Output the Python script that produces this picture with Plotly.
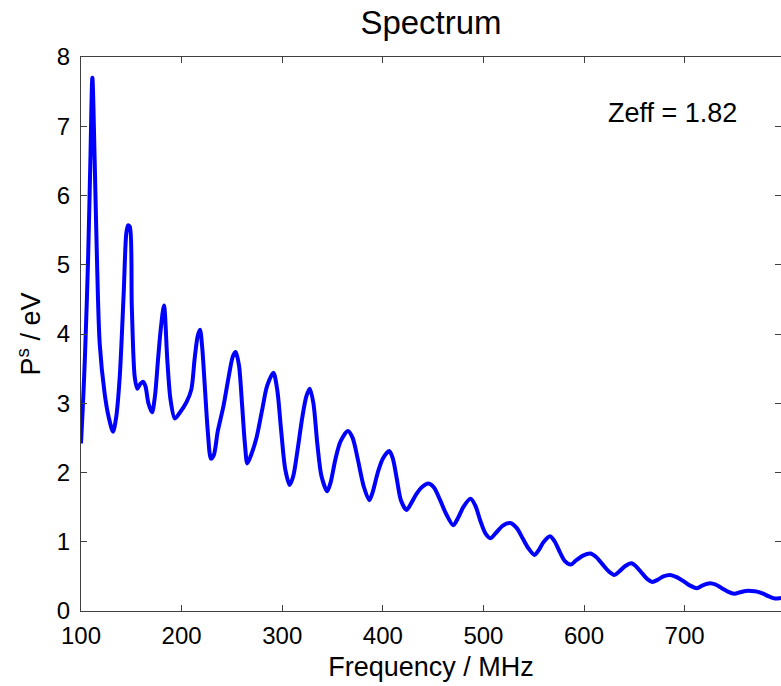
import plotly.graph_objects as go

# Frequency (MHz) and spectral power (eV)
freq = [100, 102, 104, 107, 109.3, 111.3, 113.6, 115.9, 118.6, 123.5, 127.5, 131.8,
        135, 138.5, 142.4, 145, 146.7, 148.5, 150.5, 153.4, 156, 159, 161.6, 164,
        167, 170.6, 173.5, 176.5, 179.5, 182.5, 185.8, 189, 193.3, 198, 205, 209.7,
        213, 216, 218.3, 220.5, 223.3, 226, 229.2, 232, 236, 241.5, 247, 251,
        253.8, 257, 260, 263, 265.3, 269, 274.6, 280, 285, 291.2, 295, 299,
        303, 307.4, 311, 315, 320, 324, 327.4, 331, 335, 339, 344.7, 348,
        353, 358, 365.3, 370, 375, 381, 386.5, 390, 395, 400, 406.4, 410,
        414, 418, 423.5, 428, 433, 439, 445.4, 451, 457, 463, 470, 475,
        480, 487.2, 492, 497, 502, 507, 512, 519, 526.5, 533, 539, 545,
        550.8, 555, 560, 566.2, 571, 576, 581, 586.8, 592, 599, 606.2, 612,
        618, 624, 630.2, 635, 641, 647.3, 652, 658, 663, 667.9, 673, 679,
        685.5, 692, 699, 705, 712.3, 718, 725.2, 731, 737, 743, 749.4, 755,
        761, 766.2, 772, 778, 784, 790, 796]
power = [2.42, 3.0, 3.7, 5.06, 6.5, 7.70, 6.5, 5.06, 3.86, 3.14, 2.8, 2.59,
         2.8, 3.38, 4.58, 5.45, 5.57, 5.55, 4.4, 3.38, 3.21, 3.28, 3.31, 3.25,
         3.0, 2.87, 3.1, 3.62, 4.1, 4.41, 3.62, 3.05, 2.78, 2.86, 3.02, 3.2,
         3.65, 3.97, 4.06, 3.8, 3.19, 2.6, 2.2, 2.25, 2.6, 2.95, 3.4, 3.68,
         3.74, 3.55, 3.0, 2.4, 2.13, 2.25, 2.51, 2.9, 3.25, 3.44, 3.2, 2.6,
         2.05, 1.82, 1.95, 2.3, 2.8, 3.1, 3.21, 3.0, 2.4, 1.95, 1.73, 1.85,
         2.2, 2.45, 2.60, 2.5, 2.2, 1.8, 1.60, 1.72, 2.0, 2.2, 2.31, 2.2,
         1.9, 1.6, 1.46, 1.55, 1.68, 1.79, 1.84, 1.78, 1.6, 1.4, 1.24, 1.35,
         1.5, 1.62, 1.52, 1.3, 1.12, 1.05, 1.12, 1.23, 1.27, 1.2, 1.05, 0.9,
         0.81, 0.88, 1.0, 1.08, 1.0, 0.85, 0.72, 0.67, 0.73, 0.8, 0.83, 0.78,
         0.68, 0.58, 0.52, 0.57, 0.65, 0.69, 0.64, 0.54, 0.46, 0.42, 0.45, 0.5,
         0.52, 0.49, 0.43, 0.37, 0.33, 0.37, 0.40, 0.38, 0.33, 0.28, 0.25, 0.27,
         0.29, 0.29, 0.28, 0.25, 0.21, 0.18, 0.19]

x_ticks = [100, 200, 300, 400, 500, 600, 700]
y_ticks = [0, 1, 2, 3, 4, 5, 6, 7, 8]

FONT = "Liberation Sans, Arial, sans-serif"
AXIS_COLOR = "#404040"

fig = go.Figure()
fig.add_trace(go.Scatter(
    x=freq, y=power, mode="lines",
    line=dict(color="#0000FF", width=4, shape="spline", smoothing=0.8),
    showlegend=False, hoverinfo="x+y",
))

fig.update_layout(
    width=781, height=686,
    margin=dict(l=81, r=0, t=57, b=75),
    paper_bgcolor="white", plot_bgcolor="white",
    font=dict(family=FONT, color="black"),
    title=dict(text="Spectrum", font=dict(size=33, family=FONT, color="black"),
               x=0.5, xanchor="center", y=1 - 22 / 686, yanchor="middle",
               xref="paper", yref="container"),
    xaxis=dict(
        range=[100, 795.8], tickvals=x_ticks, ticktext=[str(v) for v in x_ticks],
        ticks="inside", ticklen=6, tickwidth=1, tickcolor=AXIS_COLOR,
        showline=True, linecolor=AXIS_COLOR, linewidth=1, mirror="ticks",
        showgrid=False, zeroline=False, ticklabelstandoff=3,
        tickfont=dict(size=24, family=FONT, color="black"),
        title=dict(text="Frequency / MHz", font=dict(size=27, family=FONT, color="black"),
                   standoff=9),
    ),
    yaxis=dict(
        range=[0, 8], tickvals=y_ticks, ticktext=[str(v) for v in y_ticks],
        ticks="inside", ticklen=6, tickwidth=1, tickcolor=AXIS_COLOR,
        showline=True, linecolor=AXIS_COLOR, linewidth=1, mirror="ticks",
        showgrid=False, zeroline=False, ticklabelstandoff=5,
        tickfont=dict(size=24, family=FONT, color="black"),
        title=dict(text="P<sup>s</sup> / eV", font=dict(size=27, family=FONT, color="black"),
                   standoff=8),
    ),
    annotations=[dict(
        text="Zeff = 1.82", x=622, y=7.19, xref="x", yref="y",
        xanchor="left", yanchor="middle", showarrow=False,
        font=dict(size=27, family=FONT, color="black"),
    )],
)

fig.write_html("out.html")
